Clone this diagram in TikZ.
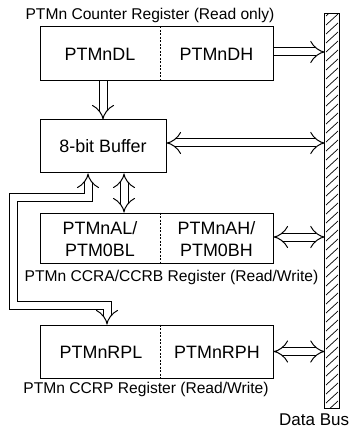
\documentclass[tikz,border=0pt]{standalone}
\usepackage{fontspec}
\setmainfont{Liberation Sans}
\usetikzlibrary{arrows.meta,calc}
\begin{document}
\begin{tikzpicture}[x=1pt,y=-1pt,
 box/.style={draw, line width=1pt, inner sep=0pt},
 big/.style={font=\fontsize{17.9}{21.5}\selectfont, align=center, inner sep=0pt},
 lab/.style={font=\fontsize{15.6}{18}\selectfont, inner sep=0pt},
 divider/.style={line width=0.9pt, dash pattern=on 2pt off 1.5pt},
 hollow/.style={double, double distance=7pt, line width=1pt},
 tip/.style={-{Implies[scale=1.3]}},
 tips/.style={{Implies[scale=1.3]}-{Implies[scale=1.3]}}]
\useasboundingbox (0,0) rectangle (352,430);
% register boxes
\node[box, minimum width=233pt, minimum height=54pt] (cnt) at (156.5,54) {};
\node[box, minimum width=126pt, minimum height=53pt] (buf) at (103,146.5) {};
\node[box, minimum width=233pt, minimum height=50pt] (ccra) at (156.5,238) {};
\node[box, minimum width=233pt, minimum height=53pt] (ccrp) at (156.5,351.5) {};
% texts
\node[big] (dl) at (100,54) {PTMnDL};
\node[big] (dh) at (216.5,54) {PTMnDH};
\node[big] (bt) at (103,146.5) {8-bit Buffer};
\node[big] (al) at (100,239) {PTMnAL/\\PTM0BL};
\node[big] (ah) at (216.5,239) {PTMnAH/\\PTM0BH};
\node[big] (rl) at (101,352) {PTMnRPL};
\node[big] (rh) at (217,352) {PTMnRPH};
\node[lab] (l1) at (150,15.5) {PTMn Counter Register (Read only)};
\node[lab] (l2) at (171.5,277.5) {PTMn CCRA/CCRB Register (Read/Write)};
\node[lab] (l3) at (146,389.5) {PTMn CCRP Register (Read/Write)};
\node[lab, anchor=west, font=\fontsize{17}{20}\selectfont] (db) at (279,419.5) {Data Bus};
% dividers
\coordinate (dv) at (160,0);
\draw[divider] (cnt.north -| dv) -- (cnt.south -| dv);
\draw[divider] (ccra.north -| dv) -- (ccra.south -| dv);
\draw[divider] (ccrp.north -| dv) -- (ccrp.south -| dv);
% data bus
\node[minimum width=14pt, minimum height=394pt, inner sep=0pt] (bus) at (332,211) {};
\begin{scope}
\clip (bus.south west) rectangle (bus.north east);
\foreach \y in {16,25,...,430} \draw[line width=0.7pt] (326,\y) -- (338,\y-11);
\end{scope}
\draw[line width=1.2pt] (bus.south west) rectangle (bus.north east);
% hollow arrows
\draw[hollow, tip] (cnt.east) ++(0,-2) coordinate (a1) (a1) -- (a1 -| bus.west);
\draw[hollow, tips] ([yshift=3.5pt]buf.east) -- ([yshift=3.5pt]buf.east -| bus.west);
\draw[hollow, tips] ([yshift=1pt]ccra.east) -- ([yshift=1pt]ccra.east -| bus.west);
\draw[hollow, tips] (ccrp.east) -- (ccrp.east -| bus.west);
\draw[hollow, tip] (buf.north |- cnt.south) -- (buf.north);
\coordinate (bv) at (124,0);
\draw[hollow, tips] (buf.south -| bv) -- (ccra.north -| bv);
\coordinate (lp1) at (13,197);
\coordinate (lp2) at (13,305);
\coordinate (lpx) at (107,0);
\coordinate (lpu) at (88,0);
\draw[hollow, tips] (buf.south -| lpu) |- (lp1) -- (lp2) -| (ccrp.north -| lpx);
\end{tikzpicture}
\end{document}
